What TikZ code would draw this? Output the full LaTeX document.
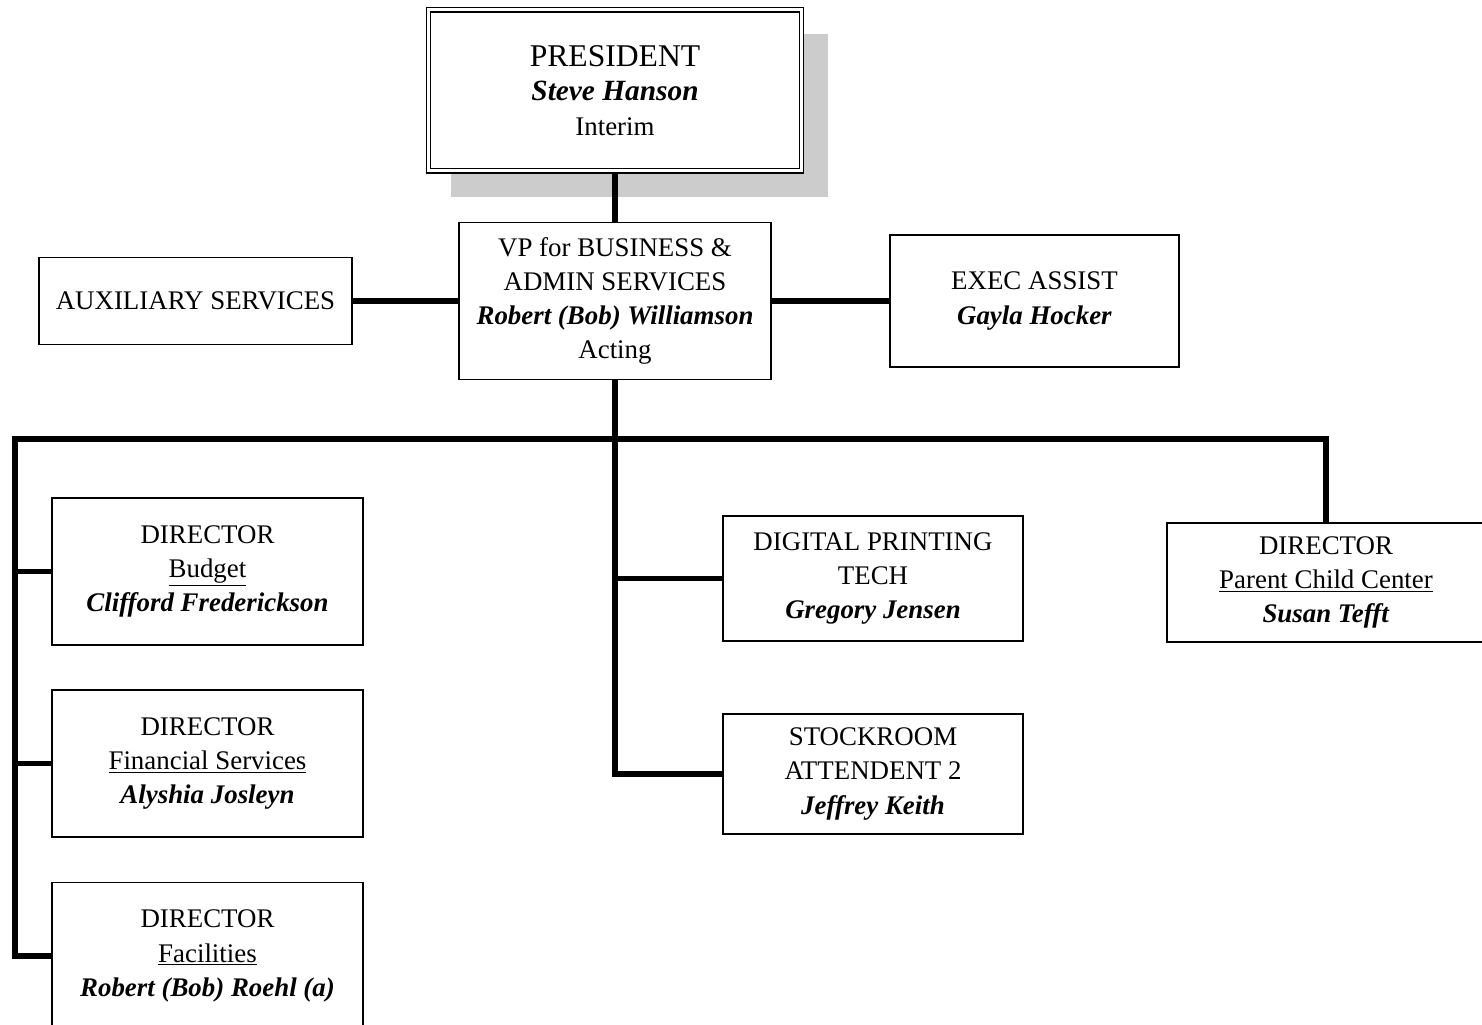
\documentclass[tikz,border=0pt]{standalone}
\usepackage{fontspec}
\setmainfont{Liberation Serif}
\usetikzlibrary{shadows}
\definecolor{shadowgray}{HTML}{CCCCCC}
\newcommand{\person}[1]{\textbf{\textit{#1}}}

\begin{document}
\begin{tikzpicture}[
  box/.style={draw, line width=0.8pt, fill=white, align=center, inner sep=0pt,
    font=\fontsize{15.3}{19.5}\selectfont},
  conn/.style={line width=3.2pt},
]
\useasboundingbox (0,0) rectangle (29.64,20.5);

% top of the chart
\node [box, double, line width=0.75pt, double distance=1.7pt, minimum width=7.46cm, minimum height=3.22cm,
  general shadow={fill=shadowgray, shadow xshift=0.48cm, shadow yshift=-0.5cm, shadow scale=1.01}]
  (pres) at (12.30,18.69) {{\fontsize{18}{19.7}\selectfont PRESIDENT}\\
  {\fontsize{16.7}{19.7}\selectfont\person{Steve Hanson}}\\ Interim};
\node [box, minimum width=6.24cm, minimum height=3.14cm] (vp) at (12.30,14.48)
  {VP for BUSINESS \&\\ ADMIN SERVICES\\ \person{Robert (Bob) Williamson}\\ Acting};
\node [box, minimum width=6.26cm, minimum height=1.74cm] (aux) at (3.91,14.48) {AUXILIARY SERVICES};
\node [box, minimum width=5.78cm, minimum height=2.64cm] (exec) at (20.69,14.48)
  {EXEC ASSIST\\ \person{Gayla Hocker}};

% directors on the left
\node [box, minimum width=6.22cm, minimum height=2.94cm] (budget) at (4.15,9.07)
  {DIRECTOR\\ \underline{Budget}\\ \person{Clifford Frederickson}};
\node [box, minimum width=6.22cm, minimum height=2.94cm] (fin) at (4.15,5.23)
  {DIRECTOR\\ \underline{Financial Services}\\ \person{Alyshia Josleyn}};
\node [box, minimum width=6.22cm, minimum height=2.94cm] (fac) at (4.15,1.38)
  {DIRECTOR\\ \underline{Facilities}\\ \person{Robert (Bob) Roehl (a)}};

% middle and right
\node [box, minimum width=6.00cm, minimum height=2.50cm] (dig) at (17.46,8.93)
  {DIGITAL PRINTING\\ TECH\\ \person{Gregory Jensen}};
\node [box, minimum width=6.00cm, minimum height=2.40cm] (stock) at (17.46,5.02)
  {STOCKROOM\\ ATTENDENT 2\\ \person{Jeffrey Keith}};
\node [box, minimum width=6.36cm, minimum height=2.38cm] (parent) at (26.52,8.85)
  {DIRECTOR\\ \underline{Parent Child Center}\\ \person{Susan Tefft}};

\coordinate (busL) at (0.30,11.72);

\draw [conn] (pres.south) -- (vp.north);
\draw [conn] (aux.east) -- (vp.west);
\draw [conn] (vp.east) -- (exec.west);
\draw [conn] (vp.south) |- (stock.west);
\draw [conn] (vp.south |- dig.west) -- (dig.west);
\draw [conn] (fac.west) -| (busL) -| (parent.north);
\draw [conn] (busL |- budget.west) -- (budget.west);
\draw [conn] (busL |- fin.west) -- (fin.west);

\end{tikzpicture}
\end{document}
